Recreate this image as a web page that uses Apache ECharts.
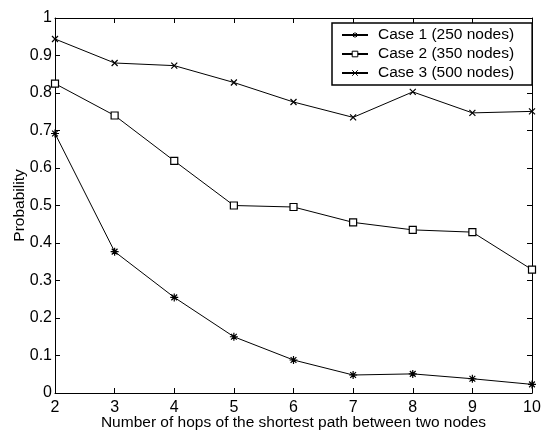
<!DOCTYPE html>
<html>
<head>
<meta charset="utf-8">
<script src="https://cdn.jsdelivr.net/npm/echarts@6/dist/echarts.min.js"></script>
<style>
html,body{margin:0;padding:0;background:#fff;}
#chart{width:543px;height:430px;}
</style>
</head>
<body>
<div id="chart"></div>
<script>
var hops = [2, 3, 4, 5, 6, 7, 8, 9, 10];
var case1 = [0.692, 0.377, 0.255, 0.150, 0.088, 0.048, 0.051, 0.038, 0.023];
var case2 = [0.825, 0.740, 0.619, 0.500, 0.496, 0.455, 0.435, 0.429, 0.329];
var case3 = [0.944, 0.880, 0.873, 0.828, 0.776, 0.735, 0.803, 0.747, 0.751];
var seriesNames = ['Case 1 (250 nodes)', 'Case 2 (350 nodes)', 'Case 3 (500 nodes)'];
var xTitle = 'Number of hops of the shortest path between two nodes';
var yTitle = 'Probability';

function pairs(arr){ return hops.map(function(h,i){ return [h, arr[i]]; }); }

var FONT = 'Liberation Sans, Arial, Helvetica, sans-serif';
var starPath = 'path://M0,-5L0,5M-5,0L5,0M-3.6,-3.6L3.6,3.6M-3.6,3.6L3.6,-3.6';
var crossPath = 'path://M-4,-4L4,4M-4,4L4,-4';

function axisCommon(){
  return {
    type: 'value',
    axisLine: {show: true, onZero: false, lineStyle: {color: '#000', width: 1}},
    axisTick: {show: true, inside: true, length: 5, lineStyle: {color: '#000', width: 1}},
    splitLine: {show: false}
  };
}

var xBottom = Object.assign(axisCommon(), {
  position: 'bottom', min: 2, max: 10, interval: 1,
  axisLabel: {show: true, color: '#000', fontSize: 16, fontFamily: FONT, margin: 7},
  name: xTitle, nameLocation: 'middle', nameGap: 22, nameMoveOverlap: false,
  nameTextStyle: {color: '#000', fontSize: 15.5, fontFamily: FONT}
});
var xTop = Object.assign(axisCommon(), {
  position: 'top', min: 2, max: 10, interval: 1, axisLabel: {show: false}
});
var yLeft = Object.assign(axisCommon(), {
  position: 'left', min: 0, max: 1, interval: 0.1,
  axisLabel: {show: true, color: '#000', fontSize: 16, fontFamily: FONT, margin: 3},
  name: yTitle, nameLocation: 'middle', nameGap: 27, nameMoveOverlap: false,
  nameTextStyle: {color: '#000', fontSize: 15.5, fontFamily: FONT}
});
var yRight = Object.assign(axisCommon(), {
  position: 'right', min: 0, max: 1, interval: 0.1, axisLabel: {show: false}
});

function mkSeries(name, arr, symbol, size){
  return {
    name: name, type: 'line', data: pairs(arr),
    xAxisIndex: 0, yAxisIndex: 0,
    symbol: symbol, symbolSize: size, showSymbol: true,
    lineStyle: {color: '#000', width: 1},
    itemStyle: {color: '#fff', borderColor: '#000', borderWidth: 1.2},
    emphasis: {disabled: true},
    animation: false
  };
}

var chart = echarts.init(document.getElementById('chart'), null, {renderer: 'canvas'});
chart.setOption({
  animation: false,
  backgroundColor: '#fff',
  grid: {left: 55, right: 11, top: 18, bottom: 37, containLabel: false, outerBoundsMode: 'none'},
  xAxis: [xBottom, xTop],
  yAxis: [yLeft, yRight],
  legend: {
    data: seriesNames,
    orient: 'vertical',
    left: 332, top: 23,
    padding: [4, 18, 4, 9],
    itemGap: 3,
    itemWidth: 26, itemHeight: 7,
    backgroundColor: '#fff',
    borderColor: '#000', borderWidth: 1.5,
    itemStyle: {color: '#fff', borderColor: '#000', borderWidth: 1},
    textStyle: {color: '#000', fontSize: 15.5, fontFamily: FONT, lineHeight: 15, padding: [0, 0, 0, 5]}
  },
  series: [
    mkSeries(seriesNames[0], case1, starPath, 8),
    mkSeries(seriesNames[1], case2, 'rect', 7),
    mkSeries(seriesNames[2], case3, crossPath, 6)
  ]
});
</script>
</body>
</html>
